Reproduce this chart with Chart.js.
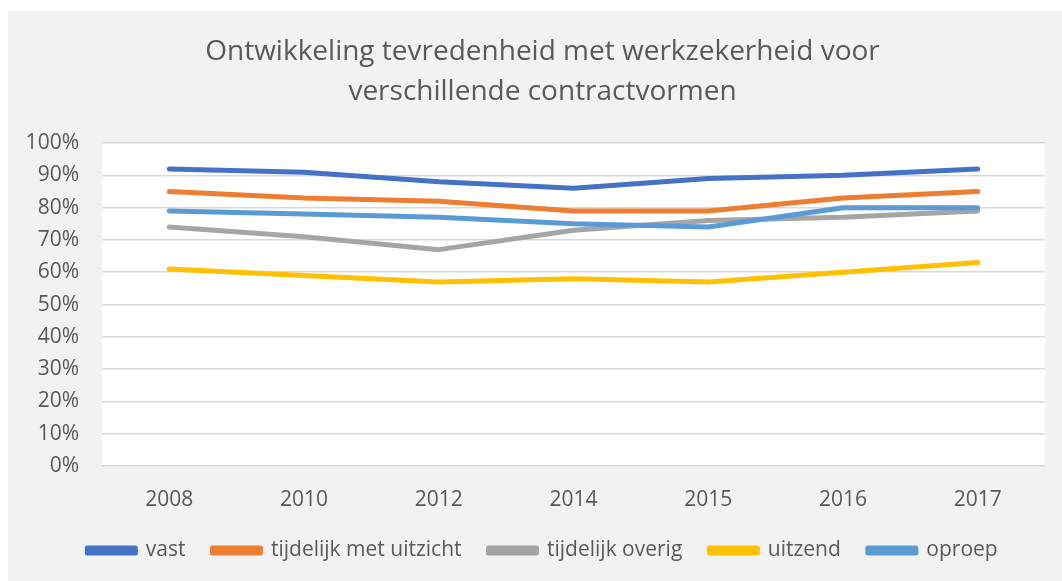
<!DOCTYPE html>
<html>
<head>
<meta charset="utf-8">
<script src="https://cdn.jsdelivr.net/npm/chart.js@4.4.1/dist/chart.umd.min.js"></script>
<style>
  html, body { margin: 0; padding: 0; background: #ffffff; }
  #wrap { position: absolute; left: 8px; top: 11px; width: 1054px; height: 570px; }
</style>
</head>
<body>
<div id="wrap"><canvas id="c"></canvas></div>
<script>
const titleLines = ['Ontwikkeling tevredenheid met werkzekerheid voor', 'verschillende contractvormen'];
const categories = ['2008', '2010', '2012', '2014', '2015', '2016', '2017'];
const seriesNames = ['vast', 'tijdelijk met uitzicht', 'tijdelijk overig', 'uitzend', 'oproep'];
const vast = [92, 91, 88, 86, 89, 90, 92];
const tijdelijkMetUitzicht = [85, 83, 82, 79, 79, 83, 85];
const tijdelijkOverig = [74, 71, 67, 73, 76, 77, 79];
const uitzend = [61, 59, 57, 58, 57, 60, 63];
const oproep = [79, 78, 77, 75, 74, 80, 80];
const yTicks = [0, 10, 20, 30, 40, 50, 60, 70, 80, 90, 100];

const colors = ['#4472C4', '#ED7D31', '#A5A5A5', '#FFC000', '#5B9BD5'];
const values = [vast, tijdelijkMetUitzicht, tijdelijkOverig, uitzend, oproep];
const FONT = "'Open Sans', 'Noto Sans', sans-serif";
const TEXT = '#595959';

const bgPlugin = {
  id: 'bg',
  afterLayout(chart) {
    // centre title and legend on the whole chart box like the reference
    const shift = 16;
    [chart.titleBlock, chart.legend].forEach(b => {
      if (b) { b.left += shift; b.right += shift; }
    });
  },
  beforeDraw(chart) {
    const { ctx, chartArea } = chart;
    ctx.save();
    ctx.fillStyle = '#F2F2F2';
    ctx.fillRect(0, 0, chart.width, chart.height);
    ctx.fillStyle = '#FFFFFF';
    ctx.fillRect(chartArea.left, chartArea.top, chartArea.right - chartArea.left, chartArea.bottom - chartArea.top);
    ctx.restore();
  }
};

new Chart(document.getElementById('c'), {
  type: 'line',
  data: {
    labels: categories,
    datasets: seriesNames.map((name, i) => ({
      label: name,
      data: values[i],
      borderColor: colors[i],
      backgroundColor: colors[i],
      borderWidth: 5,
      borderCapStyle: 'round',
      borderJoinStyle: 'round',
      pointRadius: 0,
      pointHoverRadius: 0,
      tension: 0,
      fill: false,
      order: seriesNames.length - i
    }))
  },
  options: {
    responsive: true,
    maintainAspectRatio: false,
    animation: false,
    devicePixelRatio: 1,
    layout: { padding: { left: 0, right: 17, top: 0, bottom: 10 } },
    plugins: {
      title: {
        display: true,
        text: titleLines,
        color: TEXT,
        font: { family: FONT, size: 28, weight: 'normal', lineHeight: 1.43 },
        padding: { top: 21, bottom: 31 }
      },
      legend: {
        display: true,
        position: 'bottom',
        labels: {
          color: TEXT,
          font: { family: FONT, size: 21 },
          boxWidth: 48,
          boxHeight: 5,
          padding: 27,
          sort: (a, b) => a.datasetIndex - b.datasetIndex
        }
      },
      tooltip: { enabled: false }
    },
    scales: {
      x: {
        offset: true,
        grid: { display: false, drawTicks: false, offset: true },
        border: { display: false },
        ticks: { color: TEXT, font: { family: FONT, size: 21 }, padding: 21 },
        afterFit(scale) { scale.height = 47; }
      },
      y: {
        min: 0,
        max: 100,
        afterBuildTicks(scale) { scale.ticks = yTicks.map(v => ({ value: v })); },
        grid: { color: '#D9D9D9', lineWidth: 1.5, drawTicks: false },
        border: { display: false },
        ticks: {
          color: TEXT,
          font: { family: FONT, size: 21 },
          padding: 23,
          callback: v => v + '%'
        },
        afterFit(scale) { scale.width = 94; }
      }
    }
  },
  plugins: [bgPlugin]
});
</script>
</body>
</html>
